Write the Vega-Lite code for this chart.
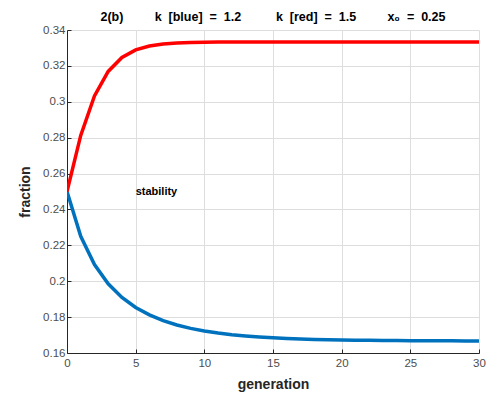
{
  "$schema": "https://vega.github.io/schema/vega-lite/v6.json",
  "autosize": {"type": "none"},
  "width": 412,
  "height": 323,
  "padding": {"left": 67, "top": 30, "right": 20, "bottom": 46},
  "background": "white",
  "config": {
    "view": {"stroke": null},
    "font": "Liberation Sans"
  },
  "title": {
    "text": "2(b)\u00a0\u00a0\u00a0\u00a0\u00a0\u00a0\u00a0\u00a0\u00a0k\u00a0\u00a0[blue]\u00a0\u00a0=\u00a0\u00a01.2\u00a0\u00a0\u00a0\u00a0\u00a0\u00a0\u00a0\u00a0\u00a0\u00a0k\u00a0\u00a0[red]\u00a0\u00a0=\u00a0\u00a01.5\u00a0\u00a0\u00a0\u00a0\u00a0\u00a0\u00a0\u00a0\u00a0x\u2080\u00a0\u00a0=\u00a0\u00a00.25",
    "font": "Liberation Sans",
    "fontSize": 12.5,
    "fontWeight": "bold",
    "color": "#000000",
    "offset": 1,
    "anchor": "middle"
  },
  "datasets": {
    "blue": [
      {"gen": 0, "fraction": 0.25}, {"gen": 1, "fraction": 0.225}, {"gen": 2, "fraction": 0.20925},
      {"gen": 3, "fraction": 0.198557}, {"gen": 4, "fraction": 0.190958}, {"gen": 5, "fraction": 0.185392},
      {"gen": 6, "fraction": 0.181226}, {"gen": 7, "fraction": 0.17806}, {"gen": 8, "fraction": 0.175626},
      {"gen": 9, "fraction": 0.173737}, {"gen": 10, "fraction": 0.172263}, {"gen": 11, "fraction": 0.171107},
      {"gen": 12, "fraction": 0.170196}, {"gen": 13, "fraction": 0.169475}, {"gen": 14, "fraction": 0.168904},
      {"gen": 15, "fraction": 0.168451}, {"gen": 16, "fraction": 0.16809}, {"gen": 17, "fraction": 0.167805},
      {"gen": 18, "fraction": 0.167577}, {"gen": 19, "fraction": 0.167395}, {"gen": 20, "fraction": 0.167249},
      {"gen": 21, "fraction": 0.167133}, {"gen": 22, "fraction": 0.16704}, {"gen": 23, "fraction": 0.166965},
      {"gen": 24, "fraction": 0.166905}, {"gen": 25, "fraction": 0.166857}, {"gen": 26, "fraction": 0.166819},
      {"gen": 27, "fraction": 0.166789}, {"gen": 28, "fraction": 0.166764}, {"gen": 29, "fraction": 0.166745},
      {"gen": 30, "fraction": 0.166729}
    ],
    "red": [
      {"gen": 0, "fraction": 0.25}, {"gen": 1, "fraction": 0.28125}, {"gen": 2, "fraction": 0.303223},
      {"gen": 3, "fraction": 0.316918}, {"gen": 4, "fraction": 0.32472}, {"gen": 5, "fraction": 0.328917},
      {"gen": 6, "fraction": 0.331096}, {"gen": 7, "fraction": 0.332207}, {"gen": 8, "fraction": 0.332769},
      {"gen": 9, "fraction": 0.333051}, {"gen": 10, "fraction": 0.333192}, {"gen": 11, "fraction": 0.333263},
      {"gen": 12, "fraction": 0.333298}, {"gen": 13, "fraction": 0.333316}, {"gen": 14, "fraction": 0.333324},
      {"gen": 15, "fraction": 0.333329}, {"gen": 16, "fraction": 0.333331}, {"gen": 17, "fraction": 0.333332},
      {"gen": 18, "fraction": 0.333333}, {"gen": 19, "fraction": 0.333333}, {"gen": 20, "fraction": 0.333333},
      {"gen": 21, "fraction": 0.333333}, {"gen": 22, "fraction": 0.333333}, {"gen": 23, "fraction": 0.333333},
      {"gen": 24, "fraction": 0.333333}, {"gen": 25, "fraction": 0.333333}, {"gen": 26, "fraction": 0.333333},
      {"gen": 27, "fraction": 0.333333}, {"gen": 28, "fraction": 0.333333}, {"gen": 29, "fraction": 0.333333},
      {"gen": 30, "fraction": 0.333333}
    ],
    "label": [{"gen": 5, "fraction": 0.2497, "text": "stability"}]
  },
  "encoding": {
    "x": {
      "field": "gen", "type": "quantitative",
      "scale": {"domain": [0, 30], "nice": false, "zero": false},
      "axis": {
        "title": "generation",
        "values": [0, 5, 10, 15, 20, 25, 30],
        "grid": true, "gridColor": "#dedede", "gridWidth": 1,
        "domainColor": "#262626", "domainWidth": 1,
        "tickColor": "#262626", "tickSize": -4, "tickWidth": 1,
        "labelPadding": 8, "labelFontSize": 11.5, "labelColor": "#4d4d4d", "labelFont": "Liberation Sans",
        "labelFlush": false,
        "titleFont": "Liberation Sans", "titleFontSize": 14, "titleFontWeight": "bold", "titleColor": "#262626",
        "titlePadding": 9
      }
    },
    "y": {
      "field": "fraction", "type": "quantitative",
      "scale": {"domain": [0.16, 0.34], "nice": false, "zero": false},
      "axis": {
        "title": "fraction",
        "values": [0.16, 0.18, 0.2, 0.22, 0.24, 0.26, 0.28, 0.3, 0.32, 0.34],
        "format": "~g",
        "grid": true, "gridColor": "#dedede", "gridWidth": 1,
        "domainColor": "#262626", "domainWidth": 1,
        "tickColor": "#262626", "tickSize": -4, "tickWidth": 1,
        "labelPadding": 6, "labelFontSize": 11.5, "labelColor": "#4d4d4d", "labelFont": "Liberation Sans",
        "labelFlush": false,
        "titleFont": "Liberation Sans", "titleFontSize": 14, "titleFontWeight": "bold", "titleColor": "#262626",
        "titlePadding": 10
      }
    }
  },
  "layer": [
    {
      "data": {"name": "blue"},
      "mark": {"type": "line", "color": "#0072BD", "strokeWidth": 3.5, "clip": true}
    },
    {
      "data": {"name": "red"},
      "mark": {"type": "line", "color": "#FF0000", "strokeWidth": 3.5, "clip": true}
    },
    {
      "data": {"name": "label"},
      "mark": {"type": "text", "align": "left", "baseline": "middle", "font": "Liberation Sans", "fontSize": 11, "fontWeight": "bold", "color": "#000000"},
      "encoding": {"text": {"field": "text"}}
    }
  ]
}
